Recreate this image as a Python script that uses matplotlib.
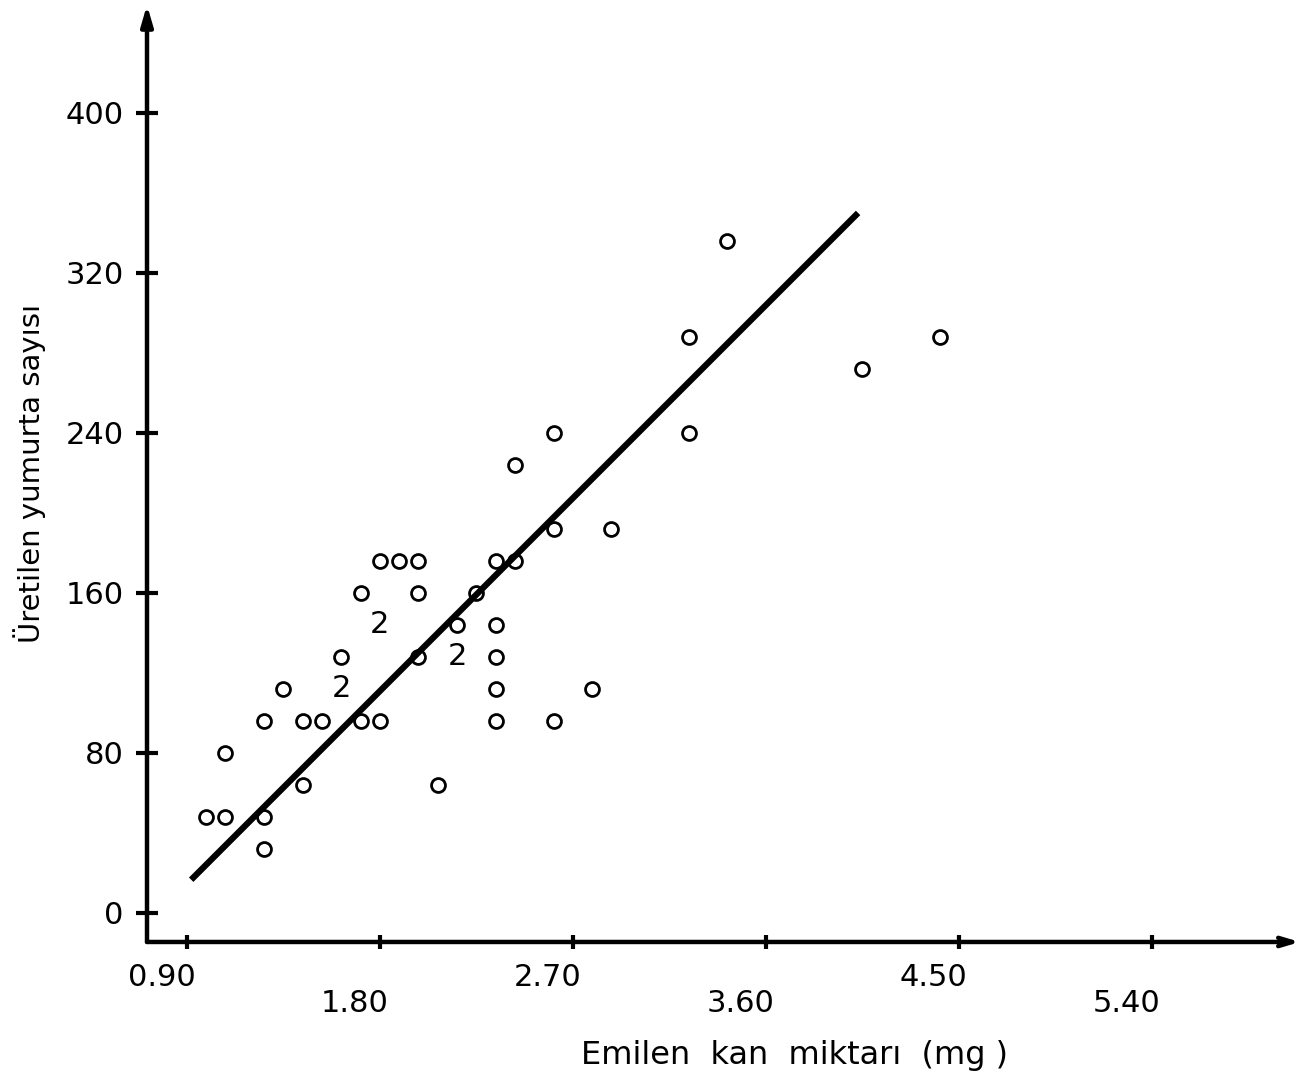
import matplotlib
matplotlib.use("Agg")
import matplotlib.pyplot as plt
import matplotlib.transforms as mtransforms
import numpy as np

# ---- data ----
x_vals = [0.99, 1.08, 1.08, 1.26, 1.26, 1.26, 1.35, 1.44, 1.44, 1.53, 1.62, 1.62,
          1.71, 1.80, 1.71, 1.80, 1.80, 1.89, 1.98, 1.98, 1.98, 2.07, 2.16, 2.16,
          2.25, 2.34, 2.34, 2.34, 2.34, 2.34, 2.43, 2.43, 2.61, 2.61, 2.61, 2.79,
          2.88, 3.24, 3.24, 3.42, 4.05, 4.41]
y_vals = [48, 48, 80, 48, 32, 96, 112, 96, 64, 96, 128, 112,
          96, 96, 160, 176, 144, 176, 176, 160, 128, 64, 144, 128,
          160, 176, 144, 128, 112, 96, 176, 224, 240, 192, 96, 112,
          192, 240, 288, 336, 272, 288]
counts = [1, 1, 1, 1, 1, 1, 1, 1, 1, 1, 1, 2,
          1, 1, 1, 1, 2, 1, 1, 1, 1, 1, 1, 2,
          1, 1, 1, 1, 1, 1, 1, 1, 1, 1, 1, 1,
          1, 1, 1, 1, 1, 1]

# regression line  y = a + b x
line_a = -82.0
line_b = 107.2
line_x = [0.92, 4.03]

x_ticks = [0.90, 1.80, 2.70, 3.60, 4.50, 5.40]
x_tick_labels = ["0.90", "1.80", "2.70", "3.60", "4.50", "5.40"]
y_ticks = [0, 80, 160, 240, 320, 400]
y_tick_labels = ["0", "80", "160", "240", "320", "400"]

x_label = "Emilen  kan  miktarı  (mg )"
y_label = "Üretilen yumurta sayısı"

# ---- figure ----
plt.rcParams['font.family'] = ['DejaVu Sans']
fig = plt.figure(figsize=(13.09, 10.80), dpi=100)
ax = fig.add_axes([0.1123, 0.1278, 0.8807, 0.8676])
ax.set_xlim(0.714, 6.09)
ax.set_ylim(-14.5, 454)

for s in ax.spines.values():
    s.set_visible(False)

# axes with arrows
ax.annotate("", xy=(0, 1.0), xytext=(0, 0), xycoords="axes fraction",
            arrowprops=dict(arrowstyle="-|>,head_length=1.2,head_width=0.35",
                            lw=3.2, color="black", shrinkA=0, shrinkB=0))
ax.annotate("", xy=(1.0, 0), xytext=(0, 0), xycoords="axes fraction",
            arrowprops=dict(arrowstyle="->,head_length=1.0,head_width=0.3",
                            lw=3.2, color="black", shrinkA=0, shrinkB=0))

# ticks
ax.set_yticks(y_ticks)
ax.set_yticklabels(y_tick_labels, fontsize=22)
ax.tick_params(axis="y", direction="inout", length=16, width=3, pad=9)
ax.set_xticks(x_ticks)
ax.set_xticklabels([])
ax.tick_params(axis="x", direction="inout", length=10, width=3)

xt = ax.get_xaxis_transform() + mtransforms.ScaledTranslation(-0.25, 0, fig.dpi_scale_trans)
for i, (v, lab) in enumerate(zip(x_ticks, x_tick_labels)):
    yoff = -0.022 if i % 2 == 0 else -0.050
    ax.text(v, yoff, lab, transform=xt, ha="center", va="top", fontsize=22)

ax.text(0.562, -0.105, x_label, transform=ax.transAxes, ha="center", va="top", fontsize=23)
ax.set_ylabel(y_label, fontsize=21, labelpad=14)

# scatter points
xs = np.array(x_vals); ys = np.array(y_vals); cs = np.array(counts)
ax.plot(xs[cs == 1], ys[cs == 1], linestyle="none", marker="o", markersize=10,
        markerfacecolor="none", markeredgecolor="black", markeredgewidth=2.0)
for x, y, c in zip(x_vals, y_vals, counts):
    if c > 1:
        ax.text(x, y, str(c), ha="center", va="center", fontsize=22)

# regression line
lx = np.array(line_x)
ax.plot(lx, line_a + line_b * lx, color="black", lw=4.5, solid_capstyle="butt")

fig.savefig("out.png", dpi=100)
